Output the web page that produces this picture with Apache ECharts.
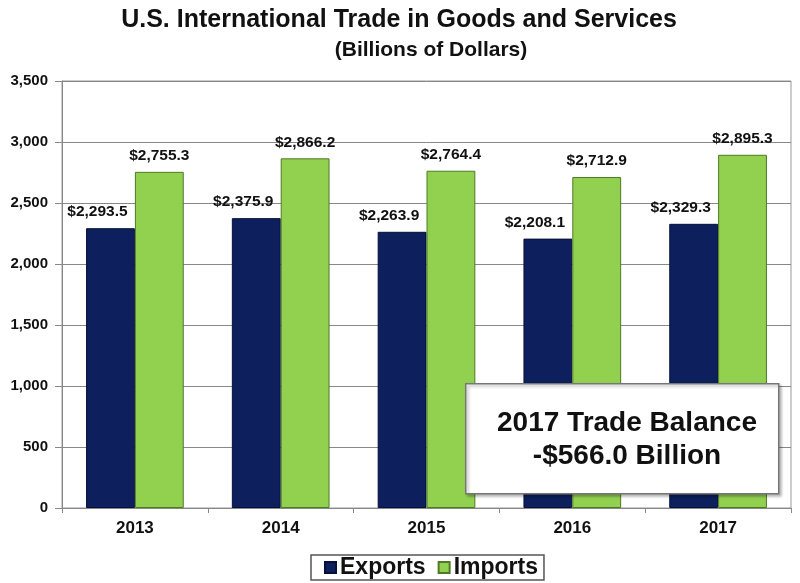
<!DOCTYPE html>
<html>
<head>
<meta charset="utf-8">
<script src="https://cdn.jsdelivr.net/npm/echarts@6/dist/echarts.min.js"></script>
<style>html,body{margin:0;padding:0;background:#fff;}#c{width:800px;height:583px;}</style>
</head>
<body>
<div id="c"></div>
<script>
var years = ['2013', '2014', '2015', '2016', '2017'];
var exportsData = [2293.5, 2375.9, 2263.9, 2208.1, 2329.3];
var importsData = [2755.3, 2866.2, 2764.4, 2712.9, 2895.3];
var yTicks = [0, 500, 1000, 1500, 2000, 2500, 3000, 3500];
var titleText = 'U.S. International Trade in Goods and Services';
var subtitleText = '(Billions of Dollars)';
var noteLines = ['2017 Trade Balance', '-$566.0 Billion'];

var FONT = '"Liberation Sans", Arial, sans-serif';
function money(v) {
  return '$' + v.toLocaleString('en-US', {minimumFractionDigits: 1, maximumFractionDigits: 1});
}
var chart = echarts.init(document.getElementById('c'));
chart.setOption({
  animation: false,
  backgroundColor: '#fff',
  textStyle: {fontFamily: FONT},
  title: [
    {text: titleText, left: 394, top: 3, textAlign: 'center',
     textStyle: {fontFamily: FONT, fontSize: 25, fontWeight: 'bold', color: '#111'}},
    {text: subtitleText, left: 426, top: 35, textAlign: 'center',
     textStyle: {fontFamily: FONT, fontSize: 21, fontWeight: 'bold', color: '#111'}}
  ],
  legend: {
    bottom: 3, left: 311,
    data: ['Exports', 'Imports'],
    itemWidth: 11, itemHeight: 11, itemGap: 12,
    icon: 'rect',
    borderColor: '#555', borderWidth: 1.5, padding: [1, 6, 1, 13],
    textStyle: {fontFamily: FONT, fontSize: 23, fontWeight: 'bold', color: '#111', padding: [0, 0, 0, -1]}
  },
  grid: {left: 62, right: 9, top: 81, bottom: 75, show: true, borderColor: '#999', borderWidth: 1},
  xAxis: {
    type: 'category', data: years,
    axisLine: {lineStyle: {color: '#888'}},
    axisTick: {show: true, length: 5, lineStyle: {color: '#888'}},
    axisLabel: {fontFamily: FONT, fontSize: 17, fontWeight: 'bold', color: '#111', margin: 12}
  },
  yAxis: {
    type: 'value', min: yTicks[0], max: yTicks[yTicks.length - 1], interval: 500,
    axisLine: {show: true, lineStyle: {color: '#888'}},
    axisTick: {show: true, length: 7, lineStyle: {color: '#888'}},
    splitLine: {lineStyle: {color: '#888', width: 1}},
    axisLabel: {fontFamily: FONT, fontSize: 15, fontWeight: 'bold', color: '#111', margin: 14,
      formatter: function (v) { return v.toLocaleString('en-US'); }}
  },
  series: [
    {name: 'Exports', type: 'bar', data: exportsData, barGap: '0%', barCategoryGap: '33%',
     itemStyle: {color: '#0d1f5c', borderColor: '#06103a', borderWidth: 1},
     label: {show: true, position: 'top', offset: [-13, -3], formatter: function (p) { return money(p.value); },
       fontFamily: FONT, fontSize: 15.5, fontWeight: 'bold', color: '#111'}},
    {name: 'Imports', type: 'bar', data: importsData,
     itemStyle: {color: '#92d050', borderColor: '#4e7a24', borderWidth: 1},
     label: {show: true, position: 'top', offset: [0, -3], formatter: function (p) { return money(p.value); },
       fontFamily: FONT, fontSize: 15.5, fontWeight: 'bold', color: '#111'}}
  ],
  graphic: [
    {type: 'rect', left: 465, top: 383, z: 100, zlevel: 1, shape: {x: 0, y: 0, width: 313, height: 110},
     style: {fill: '#fff', stroke: '#777', lineWidth: 1.5, shadowBlur: 3, shadowOffsetX: 2, shadowOffsetY: 2, shadowColor: 'rgba(0,0,0,0.3)'}},
    {type: 'text', x: 627, y: 423, z: 101, zlevel: 1, style: {text: noteLines[0], align: 'center', verticalAlign: 'middle',
      font: 'bold 28px ' + FONT, fill: '#111'}},
    {type: 'text', x: 627, y: 456, z: 101, zlevel: 1, style: {text: noteLines[1], align: 'center', verticalAlign: 'middle',
      font: 'bold 28px ' + FONT, fill: '#111'}}
  ]
});
</script>
</body>
</html>
